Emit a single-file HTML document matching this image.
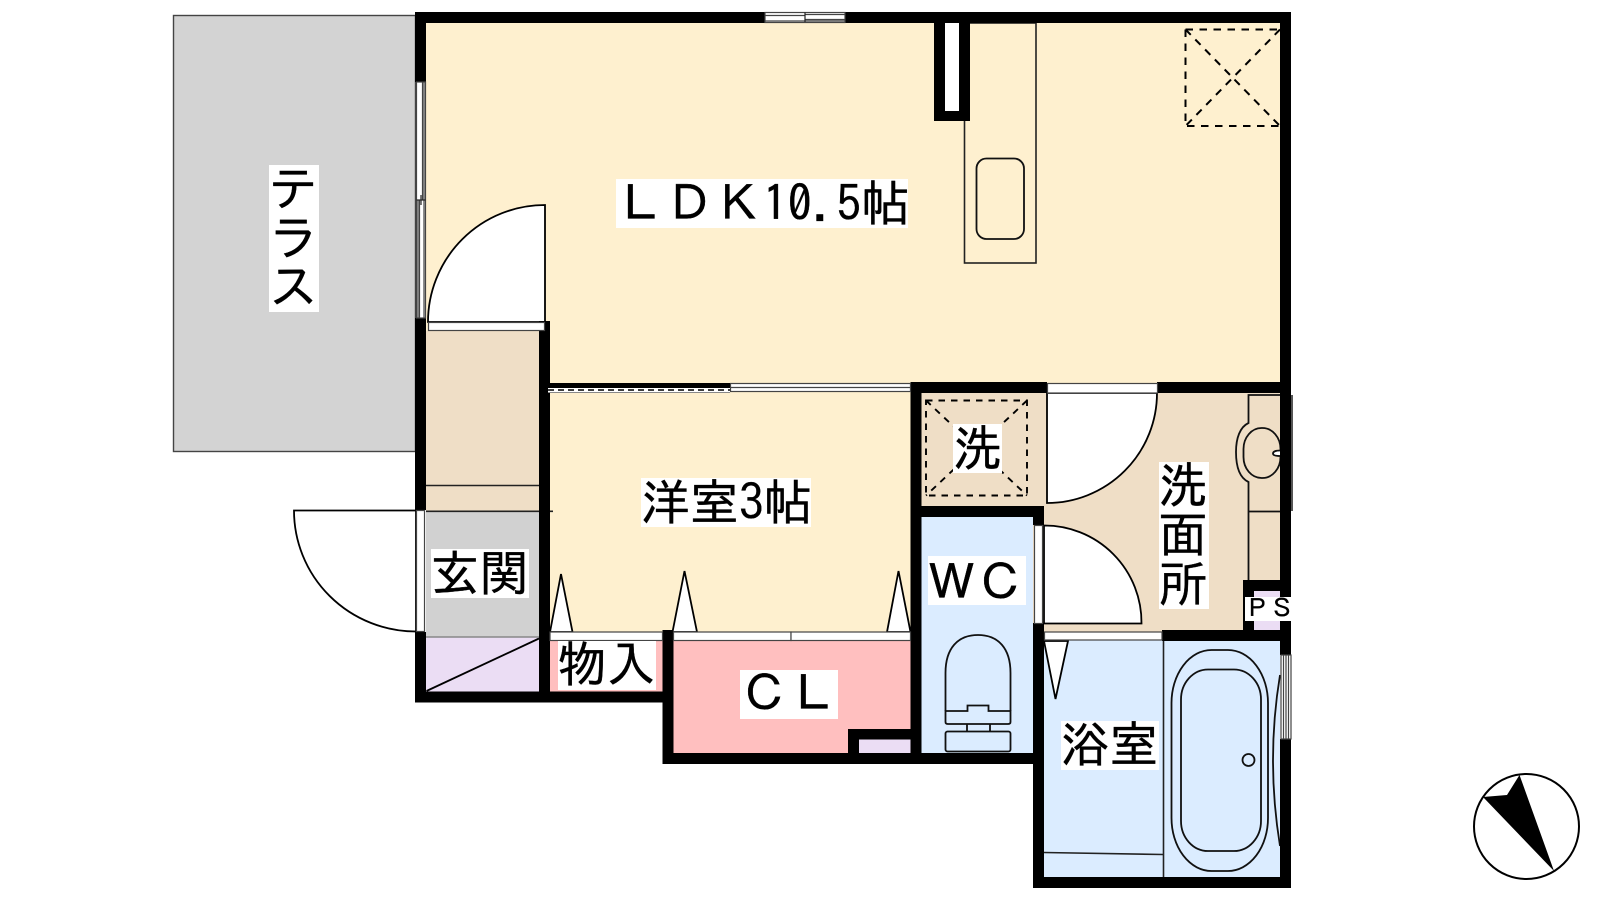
<!DOCTYPE html>
<html lang="ja">
<head>
<meta charset="utf-8">
<title>間取り図</title>
<style>
html,body{margin:0;padding:0;background:#fff;width:1600px;height:900px;overflow:hidden}
svg{display:block}
text{font-family:"IPAGothic","Noto Sans CJK JP",sans-serif;font-size:49px;fill:#000;stroke:#000;stroke-width:.35px}
</style>
</head>
<body>
<svg width="1600" height="900" viewBox="0 0 1600 900" xmlns="http://www.w3.org/2000/svg">
<!-- floors -->
<rect x="173.5" y="15.5" width="242" height="436" fill="#d3d3d3" stroke="#444" stroke-width="1.4"/>
<rect x="426" y="23" width="854" height="360" fill="#fef0cf"/>
<rect x="550" y="383" width="361" height="250" fill="#fef0cf"/>
<rect x="426" y="331" width="113" height="180" fill="#efdec6"/>
<rect x="426" y="511" width="113" height="126" fill="#d1d1d1"/>
<rect x="426" y="637" width="113" height="55" fill="#ebddf4"/>
<rect x="921" y="393" width="359" height="240" fill="#efdec6"/>
<rect x="921" y="517" width="112" height="237" fill="#dbecff"/>
<rect x="1044" y="640" width="236" height="238" fill="#dbecff"/>
<rect x="550" y="640" width="113" height="52" fill="#ffbfbf"/>
<rect x="673" y="640" width="238" height="114" fill="#ffbfbf"/>
<rect x="859" y="739" width="52" height="15" fill="#ebddf4"/>
<rect x="1254" y="591" width="26" height="40" fill="#ebddf4"/>

<!-- thin fixtures -->
<g fill="none" stroke="#222" stroke-width="1.6">
<rect x="964.5" y="23" width="71.5" height="240"/>
<rect x="976.5" y="158.5" width="47.5" height="80.5" rx="10" stroke-width="1.8" stroke="#111"/>
<path d="M426 485.5H539"/>
<path d="M426 511.3H553"/>
<path d="M426 637H539" stroke="#888"/>
<path d="M426.5 691L539 638.5" stroke="#000" stroke-width="1.8"/>
<path d="M1163.5 640V878"/>
<path d="M1044 852.5L1163 854.5" stroke-width="1.6"/>
</g>
<rect x="1291" y="395" width="2" height="116" fill="#555"/>

<!-- LDK dashed -->
<g fill="none" stroke="#000" stroke-width="2" stroke-dasharray="7.5 6.5">
<path d="M1185.5 29.5H1280"/>
<path d="M1185.5 29.5V126H1280"/>
<path d="M1185.5 29.5L1280 126"/>
<path d="M1280 29.5L1185.5 126"/>
</g>
<g fill="none" stroke="#000" stroke-width="1.9" stroke-dasharray="6.5 6">
<rect x="926" y="400.5" width="101" height="95"/>
<path d="M926 400.5L1027 495.5"/>
<path d="M1027 400.5L926 495.5"/>
</g>

<!-- door swings -->
<g fill="#fff" stroke="#000" stroke-width="1.8">
<path d="M428 322A117 117 0 0 1 545 205V322Z"/>
<path d="M294 510.5H416V631.5A122 121 0 0 1 294 510.5Z"/>
<path d="M1047 393H1157A110 110 0 0 1 1047 503Z"/>
<path d="M1044 525.5A97 97 0 0 1 1141.5 623.5H1044Z"/>
<path d="M550 632L561 574L572.5 632Z"/>
<path d="M672.500 632L684.500 571L697 632Z"/>
<path d="M887 632L898.500 571L910.500 632Z"/>
<path d="M1044 641H1068L1055.500 699Z"/>
</g>

<!-- washbasin -->
<g fill="none" stroke="#111" stroke-width="1.8">
<path d="M1280 395H1248.500V423C1240 427 1236 438 1236 452C1236 467 1240 478 1248.500 482V580"/>
<rect x="1243.500" y="428" width="37" height="50" rx="18" ry="21"/>
<path d="M1248.500 511.500H1280"/>
<path d="M1280 450.500C1276 450.500 1273 451.500 1273 453.500C1273 455.500 1276 456 1280 456" fill="#fff"/>
</g>

<!-- toilet -->
<g fill="none" stroke="#111" stroke-width="1.8">
<path d="M945.500 711V673C945.500 648 958 635 978 635C998 635 1010.500 648 1010.500 673V711"/>
<path d="M945.500 711H967.500V705.500H988.500V711H1010.500V722Q1010.500 724 1008 724H948Q945.500 724 945.500 722Z"/>
<path d="M967 724V731.500M990 724V731.500"/>
<rect x="945.500" y="731.500" width="65" height="20" rx="2"/>
</g>

<!-- bath -->
<g fill="none" stroke="#111" stroke-width="1.8">
<rect x="1171.500" y="650" width="96.500" height="221" rx="40" ry="53"/>
<rect x="1181" y="669.500" width="80" height="181.500" rx="27" ry="30"/>
<circle cx="1248.500" cy="760" r="6"/>
<path d="M1280 675Q1266 760 1280 846"/>
</g>

<!-- walls -->
<g fill="#000">
<rect x="415" y="12" width="350" height="11"/>
<rect x="845" y="12" width="446" height="11"/>
<rect x="415" y="12" width="11" height="70"/>
<rect x="415" y="318" width="11" height="192"/>
<rect x="415" y="632" width="11" height="70"/>
<rect x="415" y="691.500" width="258" height="11"/>
<rect x="539" y="321" width="11" height="381"/>
<rect x="662.500" y="630" width="11" height="133"/>
<rect x="662.500" y="753" width="381" height="11"/>
<rect x="848" y="729" width="63" height="10.500"/>
<rect x="848" y="729" width="11" height="30"/>
<rect x="910.500" y="382" width="11" height="381"/>
<rect x="911" y="382" width="136" height="11"/>
<rect x="1157" y="382" width="134" height="11"/>
<rect x="921" y="506" width="123" height="11"/>
<rect x="1033" y="506" width="11" height="19"/>
<rect x="1033" y="623" width="11" height="265"/>
<rect x="1033" y="877" width="258" height="11"/>
<rect x="1280" y="12" width="11" height="643"/>
<rect x="1280" y="739" width="11" height="149"/>
<rect x="1243" y="580" width="48" height="11"/>
<rect x="1243" y="580" width="11" height="60"/>
<rect x="1162" y="630" width="129" height="11"/>
<!-- kitchen pillar -->
<rect x="934" y="23" width="36" height="98"/>
</g>
<rect x="945" y="23" width="14" height="88" fill="#fff"/>

<!-- windows and sliding doors -->
<g stroke="#444" stroke-width="1.2">
<rect x="765" y="12.500" width="80" height="10" fill="#fff"/>
<path d="M765 15.500H805M805 14.500H845M805 19.500H845M765 21H845" />
<path d="M805 12.500V22" stroke="#222"/>
<rect x="416.500" y="82" width="9" height="236" fill="#fff"/>
<path d="M422.500 82V200M424 82V318M418 200V318M419.500 200V318" />
<path d="M416.500 200H425.500" stroke="#222"/>
<path d="M421 195V205" stroke="#222"/>
<rect x="416.500" y="510.500" width="8" height="121" fill="#fff"/>
<rect x="428.500" y="322.500" width="116" height="8" fill="#fff"/>
<rect x="1047.500" y="383.500" width="110" height="9.500" fill="#fff"/>
<rect x="1034.500" y="525.500" width="8" height="98" fill="#fff"/>
<rect x="730.500" y="383.500" width="180" height="8" fill="#fff"/>
<path d="M730.500 387.500H910"/>
<rect x="550" y="632" width="112.500" height="8.500" fill="#fff"/>
<rect x="673.500" y="632" width="117.500" height="8.500" fill="#fff"/>
<rect x="791" y="632" width="119.500" height="8.500" fill="#fff"/>
<rect x="1044.500" y="632" width="117.500" height="8" fill="#fff"/>
<rect x="1281" y="655" width="10" height="84" fill="#fff"/>
<path d="M1283.500 655V739M1286 655V739M1288.500 655V739" />
</g>
<rect x="548" y="383" width="182" height="9" fill="#fff"/>
<rect x="548" y="383" width="182" height="5" fill="#000"/>
<path d="M548 390H730" stroke="#000" stroke-width="1.4" stroke-dasharray="6 4" fill="none"/>
<path d="M548 392.500H730" stroke="#888" stroke-width="1" fill="none"/>

<!-- label backgrounds -->
<g fill="#fff">
<rect x="269" y="165" width="50" height="147"/>
<rect x="616" y="179" width="292" height="49"/>
<rect x="641" y="478" width="170" height="49"/>
<rect x="953" y="424" width="49" height="49"/>
<rect x="1159" y="462" width="50" height="147"/>
<rect x="928" y="556" width="98" height="49"/>
<rect x="431" y="549" width="98" height="49"/>
<rect x="558" y="641" width="98" height="49"/>
<rect x="740" y="670" width="98" height="49"/>
<rect x="1061" y="721" width="98" height="49"/>
<rect x="1245" y="597" width="46" height="24"/>
</g>

<!-- labels -->
<text x="269" y="206">テ</text>
<text x="269" y="255">ラ</text>
<text x="269" y="304">ス</text>
<text x="616" y="221">ＬＤＫ10.5帖</text>
<text x="641" y="520">洋室3帖</text>
<text x="953" y="466">洗</text>
<text x="1158.500" y="503">洗</text>
<text x="1158.500" y="552">面</text>
<text x="1158.500" y="601">所</text>
<text x="927" y="600">ＷＣ</text>
<text x="430.500" y="591">玄関</text>
<text x="557.500" y="682">物入</text>
<text x="740" y="711">ＣＬ</text>
<text x="1060.500" y="762">浴室</text>
<text x="1244.500" y="617" style="font-size:25px">ＰＳ</text>

<!-- compass -->
<circle cx="1526.500" cy="826.500" r="52.500" fill="#fff" stroke="#000" stroke-width="2"/>
<path d="M1519.500 775L1507 795L1483 797L1554 871Z" fill="#000"/>
</svg>
</body>
</html>
